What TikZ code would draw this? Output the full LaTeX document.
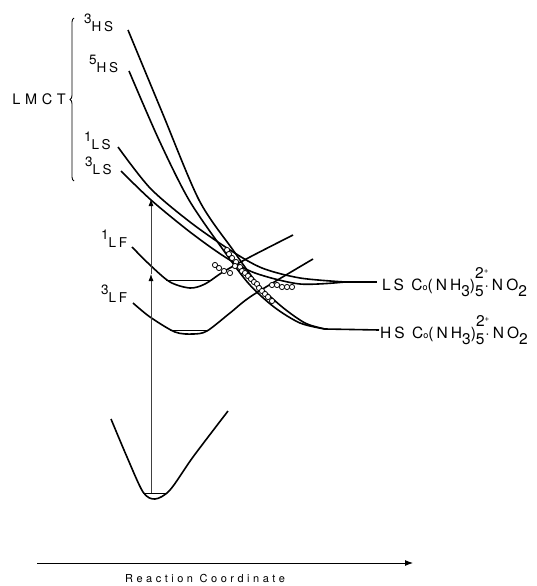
\documentclass[tikz,border=0pt]{standalone}
\usepackage{fontspec}
\setmainfont{TeX Gyre Heros}
\newfontfamily\spaced[LetterSpace=20]{TeX Gyre Heros}
\newfontfamily\wide[LetterSpace=32]{TeX Gyre Heros}
\usetikzlibrary{arrows.meta,decorations.pathreplacing}

\newcommand{\spin}[2]{\raisebox{0.6em}{#1}#2}
\newcommand{\cobalt}{C{\small o}(NH\raisebox{-.35em}{3})\raisebox{-.35em}{5}\kern-.55em\raisebox{.8em}{2\raisebox{.3em}{\footnotesize +}}\kern-.25em·NO\raisebox{-.35em}{2}}

\begin{document}
\begin{tikzpicture}[x=1pt, y=-1pt,
  pes/.style={line width=1.6pt},
  zpe/.style={line width=1pt},
  lbl/.style={inner sep=0pt, font=\fontsize{13.5}{14}\selectfont\spaced},
  mix/.style={circle, draw, fill=white, line width=0.8pt, inner sep=0pt, minimum size=5.2pt}]
\useasboundingbox (0,0) rectangle (537,586);

% state labels
\node[lbl, anchor=south west] (hs3) at (84,32) {\spin{3}{HS}};
\node[lbl, anchor=south west] (hs5) at (89,73) {\spin{5}{HS}};
\node[lbl, anchor=south west] (ls1) at (84,150) {\spin{1}{LS}};
\node[lbl, anchor=south west] (ls3) at (85,175) {\spin{3}{LS}};
\node[lbl, anchor=south west] (lf1) at (101,248) {\spin{1}{LF}};
\node[lbl, anchor=south west] (lf3) at (101,303) {\spin{3}{LF}};
\node[lbl, anchor=east, font=\fontsize{14.5}{15}\selectfont\wide] (lmct) at (66,99) {LMCT};
\draw[line width=0.9pt, decorate, decoration={brace, amplitude=4pt, aspect=0.5}] (74,181) -- (74,18);

% ground state
\draw[pes] plot[smooth] coordinates {(111,419) (127,457) (143,492) (155,499) (170,490) (193,457) (228,411)};
\draw[zpe] (143,493) -- (167,493);

% ligand field states
\draw[pes] plot[smooth] coordinates {(132,247) (150,265) (170,282) (190,288) (205,284) (223,272) (250,257) (293,235)};
\draw[zpe] (166,280) -- (212,280);
\draw[pes] plot[smooth] coordinates {(133,303) (150,317) (175,332) (193,334) (207,331) (230,313) (253,295) (313,259)};
\draw[zpe] (170,330) -- (209,330);

% charge transfer states
\draw[pes] plot[smooth] coordinates {(128,30) (162,112) (199,200) (233,250) (257,283) (281,306) (305,323) (325,329)};
\draw[pes] plot[smooth] coordinates {(129,71) (159,140) (189,200) (224,251) (249,284) (274,307) (300,323) (325,329)};
\draw[pes] plot[smooth] coordinates {(118,147) (150,188) (190,222) (230,250) (262,268) (300,278) (345,282)};
\draw[pes] plot[smooth] coordinates {(121,171) (151,200) (190,232) (225,257) (255,273) (300,284) (345,282)};

% mixing region
\foreach \p in {(227,250),(229,254),(232,258),(236,262),(235,266),(240,267),(242,271),(245,273),(248,276),(251,279),(254,282),(257,284),(259,288),(262,291),(265,294),(268,297),(272,301),
  (215,265),(219,268),(224,271),(230,273),
  (272,285),(277,285),(282,287),(287,287),(292,287)}
  \node[mix] at \p {};

% product asymptotes
\coordinate (lsend) at (345,282);
\coordinate (hsend) at (325,329);
\node[anchor=west, inner sep=0pt, font=\fontsize{15.5}{16}\selectfont\spaced] (lsprod) at (382,282) {LS \cobalt};
\node[anchor=west, inner sep=0pt, font=\fontsize{15.5}{16}\selectfont\spaced] (hsprod) at (380,330) {HS \cobalt};
\draw[pes] (lsend) -- ([xshift=-5pt]lsprod.west);
\draw[pes] (hsend) -- ([xshift=-1pt]hsprod.west);

% vertical excitation
\coordinate (gs) at (151,493);
\coordinate (lfhit) at (151,274);
\coordinate (cthit) at (151,199);
\draw[line width=0.8pt, black!75, -{Latex[length=7pt, width=5pt, black]}] (gs) -- (lfhit);
\draw[line width=0.8pt, black!75, -{Latex[length=7pt, width=5pt, black]}] (lfhit) -- (cthit);

% axis
\coordinate (rc0) at (37,563);
\coordinate (rc1) at (413,563);
\draw[line width=0.9pt, -{Latex[length=8pt, width=6pt]}] (rc0) -- node[pos=0.447, below=7pt, font=\fontsize{11}{12}\selectfont\wide] (rclbl) {Reaction\hspace{0.6em}Coordinate} (rc1);
\end{tikzpicture}
\end{document}
